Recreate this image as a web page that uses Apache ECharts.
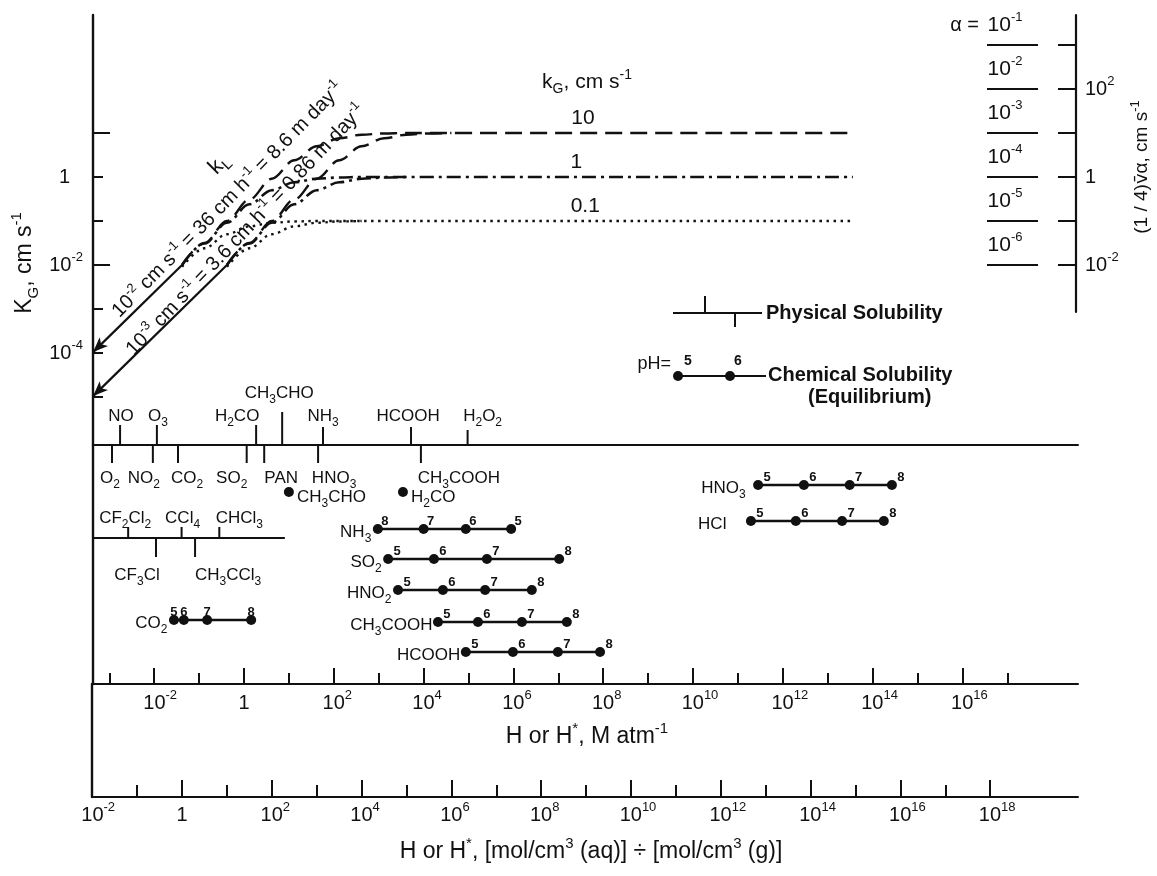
<!DOCTYPE html>
<html><head><meta charset="utf-8">
<script src="https://cdn.jsdelivr.net/npm/echarts@6/dist/echarts.min.js"></script>
<style>html,body{margin:0;padding:0;background:#fff}#c{width:1157px;height:876px}</style>
</head><body><div id="c"></div>
<script>
// ================= DATA =================
// x: log10 H (M atm^-1), y: log10 K_G (cm s^-1)
const kL2Solid = [[-3.36, -3.98], [-1.38, -2.00]];   // k_L = 1e-2 cm/s asymptote
const kL3Solid = [[-3.36, -4.98], [-0.38, -2.00]];   // k_L = 1e-3 cm/s asymptote
const kG10kL2 = [[-1.38,-2.00],[-0.88,-1.50],[-0.38,-1.00],[0.12,-0.51],[0.62,-0.04],[1.12,0.38],[1.62,0.70],[2.12,0.88],[2.62,0.96],[3.12,0.99],[3.62,1.00],[13.56,1.00]];
const kG1kL2  = [[-1.38,-2.00],[-0.88,-1.51],[-0.38,-1.04],[0.12,-0.62],[0.62,-0.30],[1.12,-0.12],[1.62,-0.04],[2.12,-0.01],[2.62,0.00],[13.56,0.00]];
const kG01kL2 = [[-1.38,-2.04],[-0.88,-1.62],[-0.38,-1.30],[0.12,-1.12],[0.62,-1.04],[1.12,-1.01],[1.62,-1.00],[13.56,-1.00]];
const kG10kL3 = [[-0.38,-2.00],[0.12,-1.50],[0.62,-1.00],[1.12,-0.51],[1.62,-0.04],[2.12,0.38],[2.62,0.70],[3.12,0.88],[3.62,0.96],[4.12,0.99],[4.62,1.00]];
const kG1kL3  = [[-0.38,-2.00],[0.12,-1.51],[0.62,-1.04],[1.12,-0.62],[1.62,-0.30],[2.12,-0.12],[2.62,-0.04],[3.12,-0.01],[3.62,0.00]];
const kG01kL3 = [[-0.38,-2.04],[0.12,-1.62],[0.62,-1.30],[1.12,-1.12],[1.62,-1.04],[2.12,-1.01],[2.62,-1.00]];
const kGLevels = [1, 0, -1];
const kGLabels = ['10', '1', '0.1'];

// physical solubility (log10 H, M atm^-1)
const physAboveNames = ['NO','O3','H2CO','CH3CHO','NH3','HCOOH','H2O2'];
const physAboveLogH  = [-2.76, -1.94, 0.27, 0.85, 1.76, 3.72, 4.98];
const physBelowNames = ['O2','NO2','CO2','SO2','PAN','HNO3','CH3COOH'];
const physBelowLogH  = [-2.94, -2.03, -1.47, 0.06, 0.45, 1.65, 3.94];
const haloAboveNames = ['CF2Cl2','CCl4','CHCl3'];
const haloAboveLogH  = [-2.58, -1.39, -0.55];
const haloBelowNames = ['CF3Cl','CH3CCl3'];
const haloBelowLogH  = [-1.96, -1.09];
const haloLineLogH   = [-3.36, 0.91];
const hydNames = ['CH3CHO','H2CO'];
const hydLogH  = [1.00, 3.54];

// chemical solubility (effective H*, log10 M atm^-1) vs pH
const nh3PH = [8,7,6,5];      const nh3LogH = [2.98, 4.00, 4.94, 5.95];
const so2PH = [5,6,7,8];      const so2LogH = [3.21, 4.23, 5.41, 7.02];
const hno2PH = [5,6,7,8];     const hno2LogH = [3.43, 4.43, 5.37, 6.41];
const aceticPH = [5,6,7,8];   const aceticLogH = [4.32, 5.21, 6.19, 7.19];
const formicPH = [5,6,7,8];   const formicLogH = [4.94, 5.99, 6.99, 7.93];
const co2PH = [5,6,7,8];      const co2LogH = [-1.56, -1.34, -0.82, 0.16];
const hno3PH = [5,6,7,8];     const hno3LogH = [11.45, 12.47, 13.49, 14.43];
const hclPH = [5,6,7,8];      const hclLogH = [11.29, 12.29, 13.32, 14.25];

// right scale: accommodation coefficient alpha vs log10 (1/4) v alpha
const alphaExp = [-1, -2, -3, -4, -5, -6];
const alphaAxisLog = [3, 2, 1, 0, -1, -2];

// axis ticks (exponents)
const upperMajor = [-2,0,2,4,6,8,10,12,14,16];
const upperMinor = [-3,-1,1,3,5,7,9,11,13,15,17];
const lowerMajorTicks = [0,2,4,6,8,10,12,14,16,18];
const lowerLabels = [-2,0,2,4,6,8,10,12,14,16,18];
const lowerMinor = [-1,1,3,5,7,9,11,13,15,17];
const kGShortTicks = [-5,-4,-3,-1,0];
const kGLongTicks = [1,-2];
const kGLabelVals = [0,-2,-4];
const rightTicks = [-2,-1,0,1,2,3];
const rightLabels = [-2,0,2];

// ================= LAYOUT / STYLE =================
const F = '"Liberation Sans", Arial, Helvetica, sans-serif';
const INK = '#111111';
const PX = 44.9, L = 93, R = 1078, E0 = 244, D0 = 182;
const eMin = (L - E0) / PX, eMax = (R - E0) / PX;
const dMin = (92 - D0) / PX, dMax = (R - D0) / PX;
const Y0 = 177, PY = 44;
const kMax = (Y0 - 15) / PY, kMin = (Y0 - 445) / PY, rMin = (Y0 - 312) / PY;

const physAboveLay = {NO:[20,1,-29], O3:[20,1,-29], H2CO:[20,-19,-29], CH3CHO:[33,-3,-52], NH3:[18,0,-29], HCOOH:[18,-3,-29], H2O2:[15,15,-29]};
const physBelowLay = {O2:[18,-2,33], NO2:[18,-9,33], CO2:[18,9,33], SO2:[18,-15,33], PAN:[18,17,33], HNO3:[18,16,33], CH3COOH:[18,38,33]};
const haloAboveLay = {CF2Cl2:[11,-3,-20], CCl4:[11,1,-20], CHCl3:[11,20,-20]};
const haloBelowLay = {CF3Cl:[19,-19,37], CH3CCl3:[19,33,37]};
const baseRowPhys = 0, baseRowHalo = 93;
const rowY = {NH3:84, SO2:114, HNO2:145, CH3COOH:177, HCOOH:207, CO2:175, HNO3:40, HCl:76, hyd:47};
const nameGap = {NH3:6, SO2:6, HNO2:6, CH3COOH:5, HCOOH:5, CO2:6, HNO3:12, HCl:24};
const phOffset = {NH3:[7,4], CO2:[0,4]};
const kGLabelAt = [7.55, 7.4, 7.6];

function mkRich(fs, lh, sfs, weight) {
  const w = weight || 'normal';
  return {
    b: {fontSize: fs, lineHeight: lh, fontFamily: F, fontWeight: w, color: INK, fill: INK, opacity: 1},
    sup: {fontSize: sfs, lineHeight: sfs, verticalAlign: 'top', fontFamily: F, fontWeight: w, color: INK, fill: INK, opacity: 1},
    sub: {fontSize: sfs, lineHeight: sfs, verticalAlign: 'bottom', fontFamily: F, fontWeight: w, color: INK, fill: INK, opacity: 1}
  };
}
const AX_SUP = 13;
const richAxis = mkRich(20, 28, AX_SUP);
for (let w = 1; w <= 20; w++) richAxis['p' + w] = Object.assign({}, richAxis.b, {padding: [0, 0, 0, w]});
richAxis.one = Object.assign({}, richAxis.b, {padding: [0, 13, 0, 0]});
function supW(s, fs) { let w = 0; for (const ch of s) w += (ch === '-' ? 0.333 : 0.556) * fs; return Math.max(1, Math.round(w)); }
function powCentered(v) { if (v === 0) return '{b|1}'; const s = String(v); return '{p' + supW(s, AX_SUP) + '|10}{sup|' + s + '}'; }
function powLeft(v) { return v === 0 ? '{one|1}' : '{b|10}{sup|' + v + '}'; }
function powRight(v) { return v === 0 ? '{b|1}' : '{b|10}{sup|' + v + '}'; }

const richChem = mkRich(17, 26, 12);
function chem(s) { return s.replace(/(\D+)|(\d+)/g, (m, a, d) => a ? '{b|' + a + '}' : '{sub|' + d + '}'); }
const richAlpha = mkRich(21, 28, 13);
const richTitle = mkRich(23, 32, 15);
const richTitleR = mkRich(19, 26, 13);
richTitleR.v = Object.assign({}, richTitleR.b, {fontFamily: '"DejaVu Sans", sans-serif', fontSize: 18});
const richTop = mkRich(21, 28, 14);
const richKL = mkRich(20, 26, 13);

function curve(data, dash, w) {
  return {type: 'line', xAxisIndex: 0, yAxisIndex: 0, data: data, smooth: 0.35, smoothMonotone: 'x',
    showSymbol: false, symbol: 'none', silent: true,
    lineStyle: {color: INK, width: w, type: dash, cap: 'butt'}};
}
function tickSeries(names, logH, baseRow, side, lay) {
  return {
    type: 'custom', xAxisIndex: 1, yAxisIndex: 2, clip: false, silent: true,
    data: logH.map(e => [e, baseRow]),
    renderItem: function (params, api) {
      const i = params.dataIndex;
      const p = api.coord([api.value(0), api.value(1)]);
      const ly = lay[names[i]];
      return {type: 'group', children: [
        {type: 'line', shape: {x1: p[0], y1: p[1], x2: p[0], y2: p[1] - side * ly[0]}, style: {stroke: INK, lineWidth: 2}},
        {type: 'text', style: {text: chem(names[i]), x: p[0] + ly[1], y: p[1] + ly[2], align: 'center', verticalAlign: 'middle', rich: richChem, fill: INK, fontSize: 17, fontFamily: F}}
      ]};
    }
  };
}
function phSeries(name, ph, logH) {
  return {type: 'line', xAxisIndex: 1, yAxisIndex: 2, silent: true, z: 3,
    data: logH.map(e => [e, rowY[name]]),
    symbol: 'circle', symbolSize: 10, showSymbol: true,
    lineStyle: {color: INK, width: 2.4}, itemStyle: {color: INK, opacity: 1},
    label: {show: true, position: 'top', distance: 0, offset: phOffset[name] || [9, 4], opacity: 1,
      formatter: p => String(ph[p.dataIndex]), fontSize: 13, fontWeight: 'bold', fontFamily: F, color: INK}};
}
const chemSets = [['NH3', nh3PH, nh3LogH], ['SO2', so2PH, so2LogH], ['HNO2', hno2PH, hno2LogH],
  ['CH3COOH', aceticPH, aceticLogH], ['HCOOH', formicPH, formicLogH], ['CO2', co2PH, co2LogH],
  ['HNO3', hno3PH, hno3LogH], ['HCl', hclPH, hclLogH]];

const series = [
  {type: 'line', xAxisIndex: 0, yAxisIndex: 0, data: [], silent: true,
    markLine: {silent: true, symbol: ['arrow', 'none'], symbolSize: [9, 15], label: {show: false},
      emphasis: {disabled: true}, animation: false,
      lineStyle: {color: INK, width: 2.2, type: 'solid', opacity: 1},
      data: [[{coord: kL2Solid[0]}, {coord: kL2Solid[1]}], [{coord: kL3Solid[0]}, {coord: kL3Solid[1]}]]}},
  curve(kG10kL2, [17, 8], 2.4), curve(kG10kL3, [17, 8], 2.4),
  curve(kG1kL2, [14, 5, 3, 5], 2.6), curve(kG1kL3, [14, 5, 3, 5], 2.6),
  curve(kG01kL2, [2.5, 4.5], 2.4), curve(kG01kL3, [2.5, 4.5], 2.4),
  {type: 'scatter', xAxisIndex: 0, yAxisIndex: 0, symbolSize: 1, silent: true, itemStyle: {color: 'rgba(0,0,0,0)', opacity: 1},
    data: kGLevels.map((k, i) => ({value: [kGLabelAt[i], k], name: kGLabels[i]})),
    label: {show: true, position: 'top', distance: 4, opacity: 1, formatter: p => p.name, fontSize: 21, fontFamily: F, color: INK}},
  tickSeries(physAboveNames, physAboveLogH, baseRowPhys, 1, physAboveLay),
  tickSeries(physBelowNames, physBelowLogH, baseRowPhys, -1, physBelowLay),
  tickSeries(haloAboveNames, haloAboveLogH, baseRowHalo, 1, haloAboveLay),
  tickSeries(haloBelowNames, haloBelowLogH, baseRowHalo, -1, haloBelowLay),
  {type: 'line', xAxisIndex: 1, yAxisIndex: 2, silent: true, showSymbol: false, symbol: 'none',
    data: haloLineLogH.map(e => [e, baseRowHalo]), lineStyle: {color: INK, width: 2}},
  {type: 'scatter', xAxisIndex: 1, yAxisIndex: 2, silent: true, symbolSize: 10, itemStyle: {color: INK, opacity: 1},
    data: hydLogH.map((e, i) => ({value: [e, rowY.hyd], name: hydNames[i]})),
    label: {show: true, position: 'right', distance: 3, offset: [0, 5], opacity: 1, color: INK, formatter: p => chem(p.name), rich: richChem}},
  ...chemSets.map(s => phSeries(s[0], s[1], s[2])),
  {type: 'scatter', xAxisIndex: 1, yAxisIndex: 2, silent: true, symbolSize: 1, itemStyle: {color: 'rgba(0,0,0,0)', opacity: 1},
    data: chemSets.map(s => ({value: [s[2][0], rowY[s[0]]], name: s[0], label: {distance: nameGap[s[0]]}})),
    label: {show: true, position: 'left', offset: [0, 3], opacity: 1, color: INK, formatter: p => chem(p.name), rich: richChem}},
  {type: 'custom', xAxisIndex: 5, yAxisIndex: 4, clip: false, silent: true,
    data: alphaAxisLog.map(v => [0, v]),
    renderItem: function (params, api) {
      const p = api.coord([0, api.value(1)]);
      const ex = alphaExp[params.dataIndex];
      return {type: 'group', children: [
        {type: 'line', shape: {x1: p[0] - 13, y1: p[1], x2: p[0] + 38, y2: p[1]}, style: {stroke: INK, lineWidth: 2}},
        {type: 'text', style: {text: '{b|10}{sup|' + ex + '}', rich: richAlpha, x: p[0] + 5, y: p[1] - 20, align: 'center', verticalAlign: 'middle', fill: INK}}
      ]};
    }}
];

const axLine = w => ({show: true, onZero: false, lineStyle: {color: INK, width: w}});
const noTick = {show: false};
const noLabel = {show: false};
const noSplit = {show: false};

const option = {
  backgroundColor: '#ffffff',
  animation: false,
  textStyle: {fontFamily: F, color: INK},
  grid: [
    {left: L, top: 15, width: R - L, height: 430, containLabel: false, outerBoundsMode: 'none'},
    {left: L, top: 445, width: R - L, height: 239, containLabel: false, outerBoundsMode: 'none'},
    {left: 92, top: 684, width: R - 92, height: 113, containLabel: false, outerBoundsMode: 'none'},
    {left: 1000, top: 15, width: 76, height: 297, containLabel: false, outerBoundsMode: 'none'}
  ],
  xAxis: [
    {gridIndex: 0, type: 'value', min: eMin, max: eMax, position: 'bottom', axisLine: axLine(2), axisTick: noTick, axisLabel: noLabel, splitLine: noSplit},
    {gridIndex: 1, type: 'value', min: eMin, max: eMax, position: 'bottom', axisLine: axLine(2),
      axisTick: {show: true, inside: true, length: 16, customValues: upperMajor, lineStyle: {color: INK, width: 2}},
      axisLabel: {show: true, customValues: upperMajor, margin: 5, formatter: powCentered, rich: richAxis, color: INK},
      splitLine: noSplit},
    {gridIndex: 1, type: 'value', min: eMin, max: eMax, position: 'bottom', axisLine: {show: false, onZero: false},
      axisTick: {show: true, inside: true, length: 11, customValues: upperMinor, lineStyle: {color: INK, width: 2}},
      axisLabel: noLabel, splitLine: noSplit},
    {gridIndex: 2, type: 'value', min: dMin, max: dMax, position: 'bottom', axisLine: axLine(2),
      axisTick: {show: true, inside: true, length: 17, customValues: lowerMajorTicks, lineStyle: {color: INK, width: 2}},
      axisLabel: {show: true, customValues: lowerLabels, margin: 4, formatter: powCentered, rich: richAxis, color: INK},
      splitLine: noSplit},
    {gridIndex: 2, type: 'value', min: dMin, max: dMax, position: 'bottom', axisLine: {show: false, onZero: false},
      axisTick: {show: true, inside: true, length: 12, customValues: lowerMinor, lineStyle: {color: INK, width: 2}},
      axisLabel: noLabel, splitLine: noSplit},
    {gridIndex: 3, type: 'value', min: 0, max: 76, show: false, axisLine: {onZero: false}}
  ],
  yAxis: [
    {gridIndex: 0, type: 'value', min: kMin, max: kMax, position: 'left', axisLine: axLine(2.4),
      axisTick: {show: true, inside: true, length: 10, customValues: kGShortTicks, lineStyle: {color: INK, width: 2}},
      axisLabel: {show: true, customValues: kGLabelVals, margin: 10, formatter: powLeft, rich: richAxis, color: INK},
      splitLine: noSplit},
    {gridIndex: 0, type: 'value', min: kMin, max: kMax, position: 'left', axisLine: {show: false, onZero: false},
      axisTick: {show: true, inside: true, length: 17, customValues: kGLongTicks, lineStyle: {color: INK, width: 2}},
      axisLabel: noLabel, splitLine: noSplit},
    {gridIndex: 1, type: 'value', min: 0, max: 239, inverse: true, position: 'left', axisLine: axLine(2.4), axisTick: noTick, axisLabel: noLabel, splitLine: noSplit},
    {gridIndex: 2, type: 'value', min: 0, max: 1, position: 'left', axisLine: axLine(2.4), axisTick: noTick, axisLabel: noLabel, splitLine: noSplit},
    {gridIndex: 3, type: 'value', min: rMin, max: kMax, position: 'right', axisLine: axLine(2.2),
      axisTick: {show: true, inside: true, length: 18, customValues: rightTicks, lineStyle: {color: INK, width: 2}},
      axisLabel: {show: true, customValues: rightLabels, margin: 9, formatter: powRight, rich: richAxis, color: INK},
      splitLine: noSplit}
  ],
  graphic: [
    {type: 'text', x: 25, y: 263, rotation: Math.PI / 2, style: {text: '{b|K}{sub|G}{b|, cm s}{sup|-1}', rich: richTitle, align: 'center', verticalAlign: 'middle', fill: INK}},
    {type: 'text', x: 1142, y: 167, rotation: Math.PI / 2, style: {text: '{b|(1 / 4)}{v|v\u0304}{b|\u03b1, cm s}{sup|-1}', rich: richTitleR, align: 'center', verticalAlign: 'middle', fill: INK}},
    {type: 'text', x: 587, y: 82, style: {text: '{b|k}{sub|G}{b|, cm s}{sup|-1}', rich: richTop, align: 'center', verticalAlign: 'middle', fill: INK}},
    {type: 'text', x: 587, y: 737, style: {text: '{b|H or H}{sup|*}{b|, M atm}{sup|-1}', rich: richTitle, align: 'center', verticalAlign: 'middle', fill: INK}},
    {type: 'text', x: 591, y: 852, style: {text: '{b|H or H}{sup|*}{b|, [mol/cm}{sup|3}{b| (aq)] \u00f7 [mol/cm}{sup|3}{b| (g)]}', rich: richTitle, align: 'center', verticalAlign: 'middle', fill: INK}},
    {type: 'text', x: 979, y: 25, style: {text: '\u03b1 =', fontSize: 20, fontFamily: F, align: 'right', verticalAlign: 'middle', fill: INK}},
    // k_L annotations along the asymptotes
    {type: 'text', x: 228, y: 200, rotation: 45.5 * Math.PI / 180, style: {text: '{b|10}{sup|-2}{b| cm s}{sup|-1}{b| = 36 cm h}{sup|-1}{b| = 8.6 m day}{sup|-1}', rich: richKL, align: 'center', verticalAlign: 'middle', fill: INK}},
    {type: 'text', x: 246, y: 230, rotation: 46.5 * Math.PI / 180, style: {text: '{b|10}{sup|-3}{b| cm s}{sup|-1}{b| = 3.6 cm h}{sup|-1}{b| = 0.86 m day}{sup|-1}', rich: richKL, align: 'center', verticalAlign: 'middle', fill: INK}},
    {type: 'text', x: 219, y: 164, rotation: 45 * Math.PI / 180, style: {text: '{b|k}{sub|L}', rich: mkRich(22, 28, 15), align: 'center', verticalAlign: 'middle', fill: INK}},
    // legend: physical solubility
    {type: 'line', shape: {x1: 673, y1: 313, x2: 762, y2: 313}, style: {stroke: INK, lineWidth: 2}},
    {type: 'line', shape: {x1: 705, y1: 296, x2: 705, y2: 313}, style: {stroke: INK, lineWidth: 2}},
    {type: 'line', shape: {x1: 735, y1: 313, x2: 735, y2: 327}, style: {stroke: INK, lineWidth: 2}},
    {type: 'text', x: 766, y: 313, style: {text: 'Physical Solubility', fontSize: 20, fontWeight: 'bold', fontFamily: F, align: 'left', verticalAlign: 'middle', fill: INK}},
    // legend: chemical solubility
    {type: 'text', x: 671, y: 364, style: {text: 'pH=', fontSize: 18, fontFamily: F, align: 'right', verticalAlign: 'middle', fill: INK}},
    {type: 'line', shape: {x1: 678, y1: 376, x2: 766, y2: 376}, style: {stroke: INK, lineWidth: 2}},
    {type: 'circle', shape: {cx: 678, cy: 376, r: 5}, style: {fill: INK}},
    {type: 'circle', shape: {cx: 730, cy: 376, r: 5}, style: {fill: INK}},
    {type: 'text', x: 688, y: 361, style: {text: '5', fontSize: 14, fontWeight: 'bold', fontFamily: F, align: 'center', verticalAlign: 'middle', fill: INK}},
    {type: 'text', x: 738, y: 361, style: {text: '6', fontSize: 14, fontWeight: 'bold', fontFamily: F, align: 'center', verticalAlign: 'middle', fill: INK}},
    {type: 'text', x: 768, y: 375, style: {text: 'Chemical Solubility', fontSize: 20, fontWeight: 'bold', fontFamily: F, align: 'left', verticalAlign: 'middle', fill: INK}},
    {type: 'text', x: 808, y: 397, style: {text: '(Equilibrium)', fontSize: 20, fontWeight: 'bold', fontFamily: F, align: 'left', verticalAlign: 'middle', fill: INK}}
  ],
  series: series
};
const chart = echarts.init(document.getElementById('c'), null, {renderer: 'canvas'});
chart.setOption(option);
</script>
</body></html>
